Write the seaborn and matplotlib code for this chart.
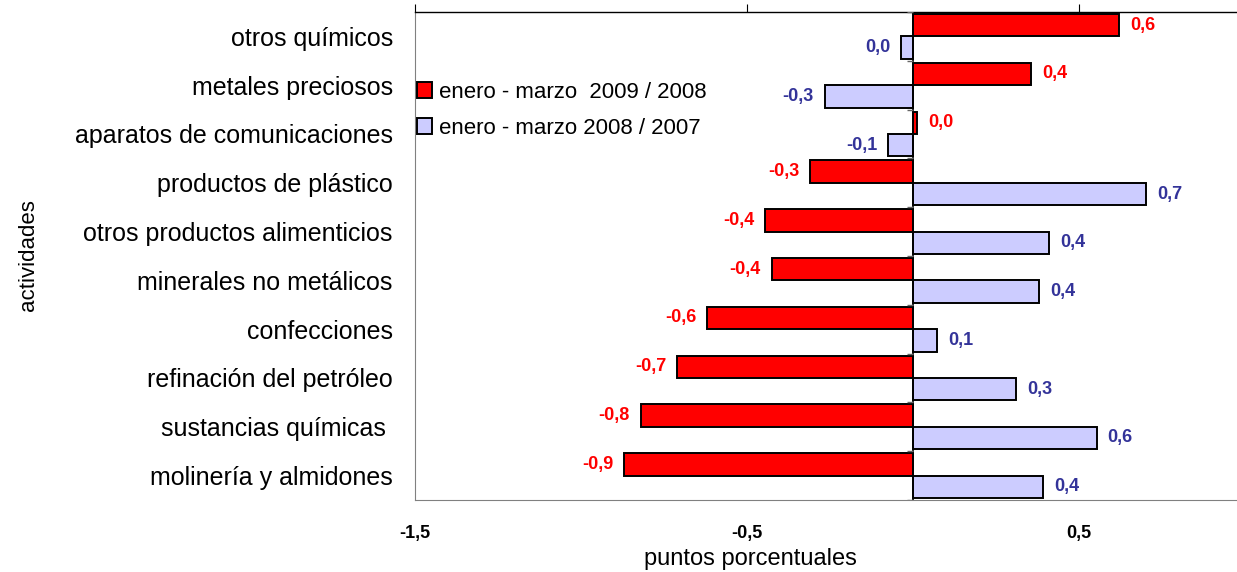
import numpy as np
import pandas as pd
import matplotlib
matplotlib.use("Agg")
import matplotlib.pyplot as plt
import seaborn as sns

# datos (puntos porcentuales)
actividades = ["otros químicos", "metales preciosos", "aparatos de comunicaciones",
               "productos de plástico", "otros productos alimenticios",
               "minerales no metálicos", "confecciones", "refinación del petróleo",
               "sustancias químicas ", "molinería y almidones"]
serie_2009 = [0.62, 0.355, 0.012, -0.31, -0.445, -0.425, -0.62, -0.71, -0.82, -0.87]
serie_2008 = [-0.036, -0.267, -0.075, 0.70, 0.41, 0.38, 0.072, 0.31, 0.552, 0.39]
nombres = ["enero - marzo  2009 / 2008", "enero - marzo 2008 / 2007"]
colores = ["#FF0000", "#CCCCFF"]
colores_texto = ["#FF0000", "#333399"]
ticks_x = [-1.5, -0.5, 0.5]

df = pd.DataFrame({
    "actividad": actividades * 2,
    "valor": serie_2009 + serie_2008,
    "serie": [nombres[0]] * len(actividades) + [nombres[1]] * len(actividades),
})

sns.set_style("white")
plt.rcParams["font.family"] = ["Liberation Sans", "DejaVu Sans"]
plt.rcParams["text.color"] = "black"
plt.rcParams["axes.labelcolor"] = "black"
plt.rcParams["xtick.color"] = "black"
plt.rcParams["ytick.color"] = "black"

def fmt(v):
    v = round(v, 1)
    if v == 0:
        v = 0.0
    return f"{v:.1f}".replace(".", ",")

fig = plt.figure(figsize=(12.37, 5.72), dpi=100)
ax = fig.add_axes([0.3355, 0.126, 0.6645, 0.853])

sns.barplot(data=df, y="actividad", x="valor", hue="serie", orient="h",
            palette=colores, saturation=1, width=0.92, edgecolor="black",
            linewidth=1.4, ax=ax)

ax.set_xlim(-1.5, 0.975)
ax.set_ylim(len(actividades) - 0.5, -0.5)

# etiquetas de valores
for cont, vals, col in zip(ax.containers, [serie_2009, serie_2008], colores_texto):
    ax.bar_label(cont, labels=[fmt(v) for v in vals], padding=8, color=col,
                 fontweight="bold", fontsize=13)

# eje en cero con marcas entre categorias
ax.axvline(0, color="black", lw=1.2, zorder=3)
ax.hlines(np.arange(len(actividades) + 1) - 0.5, -0.018, 0, color="#666666", lw=1, zorder=3)

# ejes
ax.spines["right"].set_visible(False)
ax.spines["top"].set_color("black")
ax.spines["top"].set_linewidth(1)
ax.spines["left"].set_color("#808080")
ax.spines["bottom"].set_color("#808080")
ax.set_xticks(ticks_x)
ax.set_xticklabels([fmt(t) for t in ticks_x], fontweight="bold", fontsize=13)
ax.xaxis.set_ticks_position("top")
ax.tick_params(axis="x", which="both", direction="out", length=6, color="black",
               labeltop=False, labelbottom=True, pad=12)
ax.tick_params(axis="y", length=0, pad=16, labelsize=18)

ax.set_xlabel("puntos porcentuales", fontsize=17)
ax.xaxis.set_label_position("bottom")
ax.xaxis.set_label_coords(0.408, -0.098)
ax.set_ylabel("actividades", fontsize=16)
ax.yaxis.set_label_coords(-0.458, 0.502)

handles, labels = ax.get_legend_handles_labels()
ax.legend(handles, labels, loc="upper left", bbox_to_anchor=(0.002, 0.857),
          frameon=False, fontsize=16, handlelength=0.7, handleheight=0.7,
          handletextpad=0.3, labelspacing=0.68, borderpad=0, borderaxespad=0)

fig.savefig("out.png", dpi=100)
